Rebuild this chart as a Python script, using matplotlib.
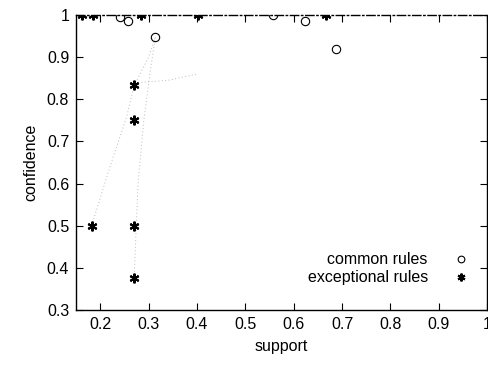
import matplotlib as mpl
mpl.use('Agg')
import matplotlib.pyplot as plt
import numpy as np

plt.rcParams['font.family'] = ['Liberation Sans', 'DejaVu Sans']

# common rules (support, confidence)
common_support = [0.240, 0.257, 0.314, 0.558, 0.624, 0.688]
common_conf = [0.995, 0.985, 0.947, 1.000, 0.985, 0.920]

# exceptional rules
exc_support = [0.162, 0.185, 0.285, 0.403, 0.667, 0.270, 0.270, 0.270, 0.270, 0.182]
exc_conf = [1.000, 1.000, 1.000, 1.000, 1.000, 0.833, 0.750, 0.500, 0.375, 0.500]

# faint dotted traces visible in the scan
trace1_x = [0.182, 0.220, 0.255, 0.270, 0.300, 0.314]
trace1_y = [0.500, 0.640, 0.760, 0.833, 0.900, 0.947]
trace2_x = [0.270, 0.278, 0.290, 0.305, 0.314]
trace2_y = [0.375, 0.600, 0.750, 0.880, 0.947]
trace3_x = [0.285, 0.340, 0.400]
trace3_y = [0.840, 0.845, 0.860]

xticks = [0.2, 0.3, 0.4, 0.5, 0.6, 0.7, 0.8, 0.9, 1]
yticks = [0.3, 0.4, 0.5, 0.6, 0.7, 0.8, 0.9, 1]

fig = plt.figure(figsize=(4.88, 3.66), dpi=100)
ax = fig.add_axes([0.156, 0.153, 0.842, 0.806])

for tx, ty in [(trace1_x, trace1_y), (trace2_x, trace2_y), (trace3_x, trace3_y)]:
    ax.plot(tx, ty, ls=(0, (1, 2.5)), color='#bbbbbb', lw=0.7)

ax.plot(common_support, common_conf, ls='none', marker='o', ms=6,
        mfc='none', mec='black', mew=0.8, label='common rules')
ax.plot(exc_support, exc_conf, ls='none', marker=(6, 2, 0), ms=7,
        color='black', mew=1.5, label='exceptional rules')

ax.set_xlim(0.15, 1.0)
ax.set_ylim(0.3, 1.0)
ax.set_xticks(xticks)
ax.set_xticklabels(['0.2', '0.3', '0.4', '0.5', '0.6', '0.7', '0.8', '0.9', '1'])
ax.set_yticks(yticks)
ax.set_yticklabels(['0.3', '0.4', '0.5', '0.6', '0.7', '0.8', '0.9', '1'])
ax.tick_params(direction='in', top=True, right=True, length=5, width=0.8,
               labelsize=11.5, pad=5)
ax.spines['top'].set_linestyle((0, (6, 2, 1, 2)))
for s in ax.spines.values():
    s.set_linewidth(1.0)

ax.set_xlabel('support', fontsize=11.5, labelpad=5)
ax.set_ylabel('confidence', fontsize=11.5, labelpad=6)

leg = ax.legend(loc='lower right', bbox_to_anchor=(0.992, 0.035), frameon=False,
                markerfirst=False, fontsize=11.5, handlelength=1.0,
                handletextpad=1.6, labelspacing=0.2, markerscale=0.8)
for t in leg.get_texts():
    t.set_ha('right')

fig.savefig('out.png', dpi=100)
